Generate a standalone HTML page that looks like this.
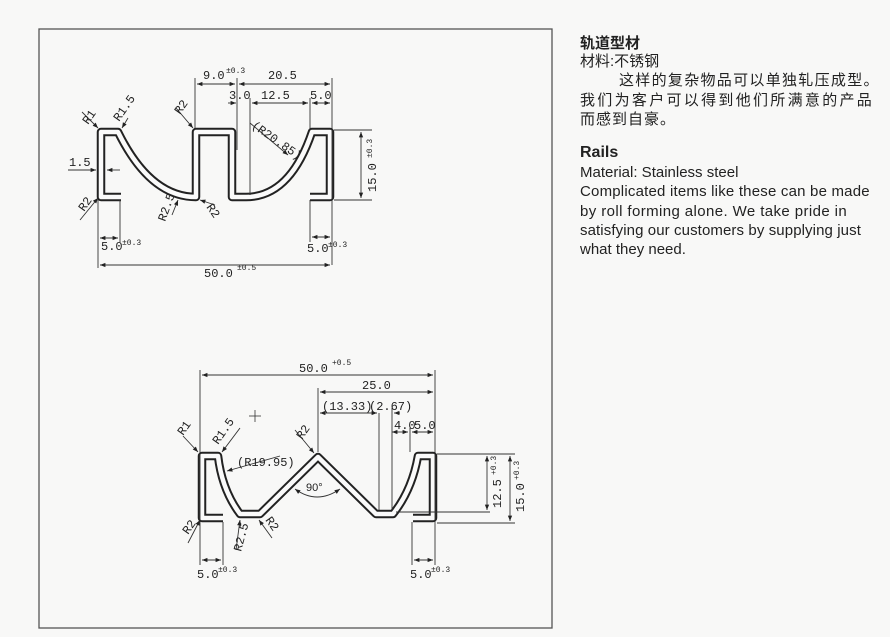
<!DOCTYPE html>
<html><head><meta charset="utf-8"><style>
body{margin:0;background:#f8f8f7;width:890px;height:637px;overflow:hidden;position:relative;font-family:"Liberation Sans","Noto Sans CJK SC",sans-serif;color:#222}
.t{position:absolute;font-size:15px;white-space:nowrap;line-height:1}
svg{position:absolute;left:0;top:0}
svg text{font-family:"Liberation Mono","DejaVu Sans Mono",monospace;font-size:12px;fill:#222}
svg .s{font-size:8px}
</style></head><body>
<svg width="890" height="637" viewBox="0 0 890 637">
<defs><marker id="a" viewBox="0 0 10 10" refX="10" refY="5" markerWidth="8" markerHeight="6" orient="auto-start-reverse"><path d="M0,1 L10,5 L0,9z" fill="#222"/></marker></defs>
<rect x="39" y="29" width="513" height="599" fill="none" stroke="#555" stroke-width="1.3"/>
<g fill="none" stroke-linejoin="round">
<path d="M121,197 L101,197 L101,132 L118,132 Q150,197 196,197 L196,132 L232,132 L232,197 L246,197 Q290,197 312,132 L330,132 L330,197 L310,197" stroke="#222" stroke-width="8.5"/>
<path d="M121,197 L101,197 L101,132 L118,132 Q150,197 196,197 L196,132 L232,132 L232,197 L246,197 Q290,197 312,132 L330,132 L330,197 L310,197" stroke="#fafafa" stroke-width="4.5"/>
</g>
<g stroke="#333" stroke-width="0.9" fill="none">
<line x1="195" y1="78" x2="195" y2="128"/><line x1="237" y1="78" x2="237" y2="150"/><line x1="332" y1="78" x2="332" y2="265"/>
<line x1="250" y1="98" x2="250" y2="195"/><line x1="310" y1="98" x2="310" y2="130"/>
<line x1="98" y1="200" x2="98" y2="268"/><line x1="120" y1="200" x2="120" y2="242"/><line x1="310" y1="200" x2="310" y2="242"/>
<line x1="334" y1="130" x2="372" y2="130"/><line x1="334" y1="200" x2="372" y2="200"/>
<line x1="197" y1="84" x2="235" y2="84" marker-start="url(#a)" marker-end="url(#a)"/>
<line x1="239" y1="84" x2="330" y2="84" marker-start="url(#a)" marker-end="url(#a)"/>
<line x1="228" y1="103" x2="236" y2="103" marker-end="url(#a)"/>
<line x1="252" y1="103" x2="308" y2="103" marker-start="url(#a)" marker-end="url(#a)"/>
<line x1="312" y1="103" x2="330" y2="103" marker-start="url(#a)" marker-end="url(#a)"/>
<line x1="361" y1="132" x2="361" y2="198" marker-start="url(#a)" marker-end="url(#a)"/>
<line x1="100" y1="238" x2="118" y2="238" marker-start="url(#a)" marker-end="url(#a)"/>
<line x1="312" y1="237" x2="330" y2="237" marker-start="url(#a)" marker-end="url(#a)"/>
<line x1="100" y1="265" x2="330" y2="265" marker-start="url(#a)" marker-end="url(#a)"/>
<line x1="68" y1="170" x2="96" y2="170" marker-end="url(#a)"/><line x1="120" y1="170" x2="107" y2="170" marker-end="url(#a)"/>
<line x1="82" y1="112" x2="98" y2="128" marker-end="url(#a)"/>
<line x1="128" y1="118" x2="122" y2="128" marker-end="url(#a)"/>
<line x1="176" y1="108" x2="193" y2="128" marker-end="url(#a)"/>
<line x1="250" y1="123" x2="288" y2="155" marker-end="url(#a)"/>
<line x1="80" y1="220" x2="98" y2="198" marker-end="url(#a)"/>
<line x1="172" y1="215" x2="178" y2="200" marker-end="url(#a)"/>
<line x1="215" y1="205" x2="200" y2="200" marker-end="url(#a)"/>
</g>
<text x="203" y="79">9.0</text><text x="226" y="73" class="s">±0.3</text>
<text x="268" y="79">20.5</text>
<text x="229" y="99">3.0</text><text x="261" y="99">12.5</text><text x="310" y="99">5.0</text>
<text x="69" y="166">1.5</text>
<text x="101" y="250">5.0</text><text x="122" y="245" class="s">±0.3</text>
<text x="307" y="252">5.0</text><text x="328" y="247" class="s">±0.3</text>
<text x="204" y="277">50.0</text><text x="237" y="270" class="s">±0.5</text>
<text transform="translate(376,192) rotate(-90)">15.0</text><text transform="translate(372,158) rotate(-90)" class="s">±0.3</text>
<text transform="translate(88,125) rotate(-55)">R1</text>
<text transform="translate(119,122) rotate(-55)">R1.5</text>
<text transform="translate(180,115) rotate(-55)">R2</text>
<text transform="translate(251,127) rotate(35)">(R20.85)</text>
<text transform="translate(84,212) rotate(-55)">R2</text>
<text transform="translate(165,222) rotate(-70)">R2.5</text>
<text transform="translate(206,207) rotate(55)">R2</text>

<g fill="none" stroke-linejoin="round">
<path d="M223,518 L202,518 L202,456 L218,456 Q222,490 240,514 L260,514 L318,457 L376,514 L393,514 Q412,490 418,456 L433,456 L433,518 L413,518" stroke="#222" stroke-width="8.5"/>
<path d="M223,518 L202,518 L202,456 L218,456 Q222,490 240,514 L260,514 L318,457 L376,514 L393,514 Q412,490 418,456 L433,456 L433,518 L413,518" stroke="#fafafa" stroke-width="4.5"/>
</g>
<g stroke="#333" stroke-width="0.9" fill="none">
<line x1="200" y1="370" x2="200" y2="565"/><line x1="435" y1="370" x2="435" y2="565"/>
<line x1="223" y1="522" x2="223" y2="565"/><line x1="412" y1="522" x2="412" y2="565"/>
<line x1="318" y1="388" x2="318" y2="452"/><line x1="379" y1="413" x2="379" y2="510"/><line x1="392" y1="408" x2="392" y2="510"/>
<line x1="410" y1="428" x2="410" y2="452"/>
<line x1="437" y1="454" x2="515" y2="454"/><line x1="396" y1="512" x2="490" y2="512"/><line x1="437" y1="523" x2="515" y2="523"/>
<line x1="202" y1="375" x2="433" y2="375" marker-start="url(#a)" marker-end="url(#a)"/>
<line x1="320" y1="392" x2="433" y2="392" marker-start="url(#a)" marker-end="url(#a)"/>
<line x1="320" y1="413" x2="377" y2="413" marker-start="url(#a)" marker-end="url(#a)"/>
<line x1="400" y1="413" x2="394" y2="413" marker-end="url(#a)"/>
<line x1="392" y1="432" x2="408" y2="432" marker-start="url(#a)" marker-end="url(#a)"/>
<line x1="412" y1="432" x2="433" y2="432" marker-start="url(#a)" marker-end="url(#a)"/>
<line x1="487" y1="456" x2="487" y2="510" marker-start="url(#a)" marker-end="url(#a)"/>
<line x1="510" y1="456" x2="510" y2="521" marker-start="url(#a)" marker-end="url(#a)"/>
<line x1="202" y1="560" x2="221" y2="560" marker-start="url(#a)" marker-end="url(#a)"/>
<line x1="414" y1="560" x2="433" y2="560" marker-start="url(#a)" marker-end="url(#a)"/>
<path d="M295,489 Q317,505 340,489" marker-start="url(#a)" marker-end="url(#a)"/>
<line x1="183" y1="436" x2="198" y2="452" marker-end="url(#a)"/>
<line x1="240" y1="428" x2="222" y2="452" marker-end="url(#a)"/>
<line x1="280" y1="456" x2="227" y2="471" marker-end="url(#a)"/>
<line x1="295" y1="430" x2="314" y2="453" marker-end="url(#a)"/>
<line x1="188" y1="543" x2="200" y2="520" marker-end="url(#a)"/>
<line x1="236" y1="550" x2="240" y2="520" marker-end="url(#a)"/>
<line x1="272" y1="538" x2="259" y2="520" marker-end="url(#a)"/>
</g>
<text x="299" y="372">50.0</text><text x="332" y="365" class="s">+0.5</text>
<text x="362" y="389">25.0</text>
<text x="322" y="410">(13.33)</text><text x="369" y="410">(2.67)</text>
<text x="394" y="429">4.0</text><text x="414" y="429">5.0</text>
<text x="306" y="491" style="font-family:'Liberation Sans',sans-serif;font-size:11px">90°</text>
<text x="237" y="466">(R19.95)</text>
<text transform="translate(501,508) rotate(-90)">12.5</text><text transform="translate(496,475) rotate(-90)" class="s">+0.3</text>
<text transform="translate(524,512) rotate(-90)">15.0</text><text transform="translate(519,480) rotate(-90)" class="s">+0.3</text>
<text x="197" y="578">5.0</text><text x="218" y="572" class="s">±0.3</text>
<text x="410" y="578">5.0</text><text x="431" y="572" class="s">±0.3</text>
<text transform="translate(183,436) rotate(-55)">R1</text>
<text transform="translate(218,445) rotate(-55)">R1.5</text>
<text transform="translate(302,440) rotate(-55)">R2</text>
<text transform="translate(188,535) rotate(-55)">R2</text>
<text transform="translate(241,552) rotate(-75)">R2.5</text>
<text transform="translate(265,520) rotate(55)">R2</text>
<g stroke="#333" stroke-width="0.8"><line x1="249" y1="416" x2="261" y2="416"/><line x1="255" y1="410" x2="255" y2="422"/></g>
</svg>
<div class="t" style="left:580px;top:36px;font-weight:bold;font-size:15px">轨道型材</div>
<div class="t" style="left:580px;top:54px">材料:不锈钢</div>
<div class="t" style="left:619px;top:73px;letter-spacing:1.3px">这样的复杂物品可以单独轧压成型。</div>
<div class="t" style="left:580px;top:93px;letter-spacing:2.3px">我们为客户可以得到他们所满意的产品</div>
<div class="t" style="left:580px;top:112px;letter-spacing:1px">而感到自豪。</div>
<div class="t" style="left:580px;top:145px;font-weight:bold;font-size:16px">Rails</div>
<div class="t" style="left:580px;top:165px">Material: Stainless steel</div>
<div class="t" style="left:580px;top:184px;letter-spacing:0.2px">Complicated items like these can be made</div>
<div class="t" style="left:580px;top:204px;letter-spacing:0.4px">by roll forming alone. We take pride in</div>
<div class="t" style="left:580px;top:223px;letter-spacing:0.1px">satisfying our customers by supplying just</div>
<div class="t" style="left:580px;top:242px">what they need.</div>
</body></html>
